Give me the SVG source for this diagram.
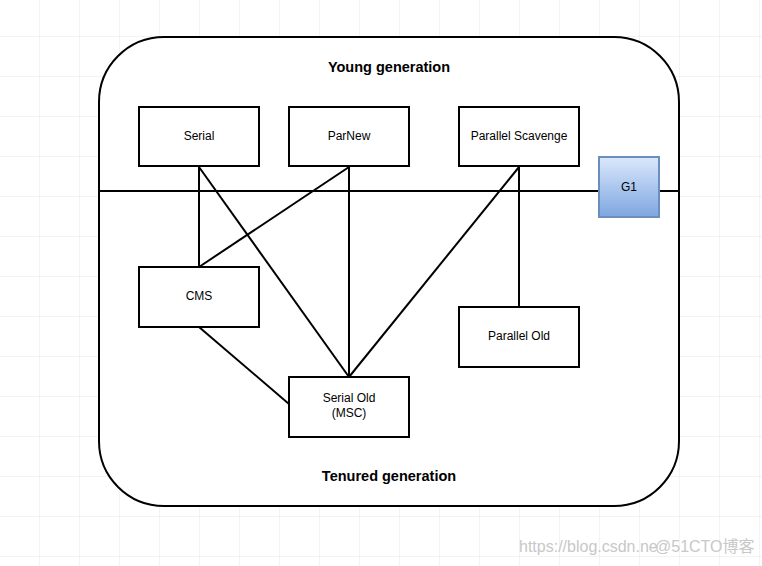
<svg xmlns="http://www.w3.org/2000/svg" width="762" height="566" viewBox="0 0 762 566">
<defs>
<pattern id="grid" x="0" y="-3" width="40" height="40" patternUnits="userSpaceOnUse">
<path d="M40 0V40M0 40H40" fill="none" stroke="#e6e6e6" stroke-width="1"/>
</pattern>
<linearGradient id="g1fill" x1="0" y1="0" x2="0" y2="1">
<stop offset="0" stop-color="#dae8fc"/>
<stop offset="1" stop-color="#7ea6e0"/>
</linearGradient>
<style>
.box{fill:#fff;stroke:#000;stroke-width:2}
.lbl{font-family:"Liberation Sans",Arial,sans-serif;font-size:12px;text-anchor:middle;fill:#000}
.title{font-family:"Liberation Sans",Arial,sans-serif;font-size:14.5px;font-weight:bold;text-anchor:middle;fill:#000}
.wm{font-family:"Liberation Sans","Noto Sans CJK SC",sans-serif;font-size:16px;fill:#c8c8c8}
</style>
</defs>
<rect width="762" height="566" fill="#fff"/>
<rect width="762" height="566" fill="url(#grid)"/>
<g id="container">
<rect x="99" y="37" width="580" height="469" rx="65" ry="65" fill="#fff" stroke="#000" stroke-width="2"/>
<text class="title" x="389" y="72">Young generation</text>
<text class="title" x="389" y="481">Tenured generation</text>
</g>
<g id="connectors" stroke="#000" stroke-width="2" fill="none">
<path d="M99 191H599M659 191H679"/>
<path d="M199 167V267"/>
<path d="M199 167L349 377"/>
<path d="M349 167L199 267"/>
<path d="M349 167V377"/>
<path d="M519 167L349 377"/>
<path d="M519 167V307"/>
<path d="M199 327L289 404"/>
</g>
<g id="serial"><rect class="box" x="139" y="107" width="120" height="59"/><text class="lbl" x="199" y="140">Serial</text></g>
<g id="parnew"><rect class="box" x="289" y="107" width="120" height="59"/><text class="lbl" x="349" y="140">ParNew</text></g>
<g id="parallel-scavenge"><rect class="box" x="459" y="107" width="120" height="59"/><text class="lbl" x="519" y="140">Parallel Scavenge</text></g>
<g id="g1"><rect x="599" y="157" width="60" height="60" fill="url(#g1fill)" stroke="#6c8ebf" stroke-width="2"/><text class="lbl" x="629" y="191">G1</text></g>
<g id="cms"><rect class="box" x="139" y="267" width="120" height="60"/><text class="lbl" x="199" y="300">CMS</text></g>
<g id="parallel-old"><rect class="box" x="459" y="307" width="120" height="60"/><text class="lbl" x="519" y="340">Parallel Old</text></g>
<g id="serial-old"><rect class="box" x="289" y="377" width="120" height="60"/><text class="lbl" x="349" y="402">Serial Old</text><text class="lbl" x="349" y="417">(MSC)</text></g>
<g id="watermark"><text class="wm" x="519" y="552">https://blog.csdn.ne</text><text class="wm" x="655" y="552" fill="#aaa">@51CTO博客</text></g>
</svg>
